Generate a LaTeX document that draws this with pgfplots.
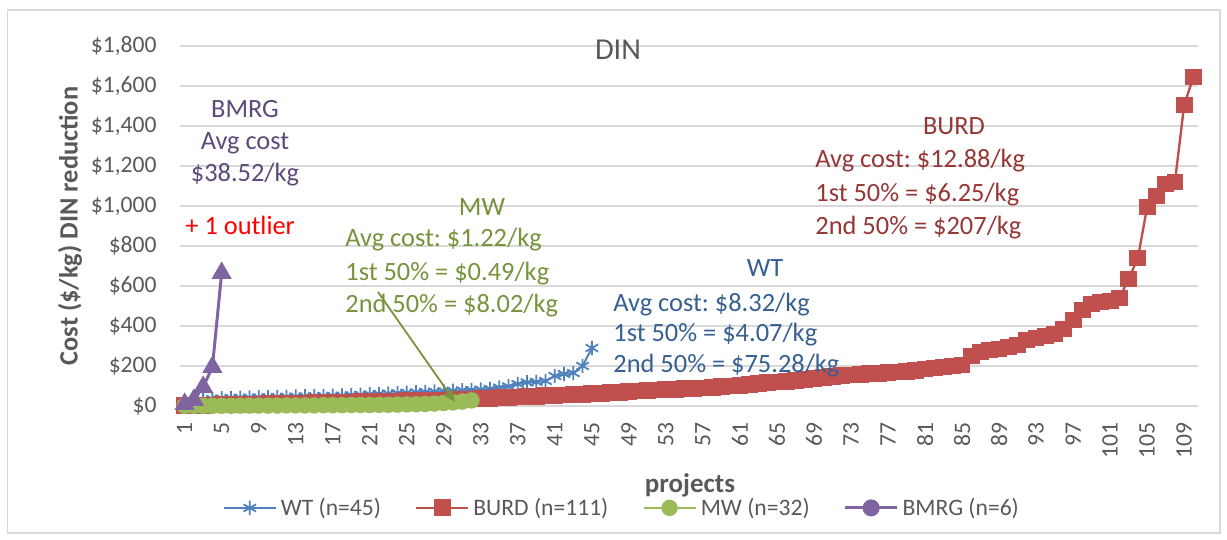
\documentclass[border=0pt]{standalone}
\usepackage{fontspec}
\setmainfont{Carlito}
\usepackage{pgfplots}
\pgfplotsset{compat=1.18}
\usetikzlibrary{arrows.meta}
\frenchspacing
\definecolor{cWT}{HTML}{4F81BD}
\definecolor{cBURD}{HTML}{C0504D}
\definecolor{cMW}{HTML}{9BBB59}
\definecolor{cBMRG}{HTML}{8064A2}
\definecolor{tWT}{HTML}{376092}
\definecolor{tBURD}{HTML}{953735}
\definecolor{tMW}{HTML}{77933C}
\definecolor{tBMRG}{HTML}{5F497A}
\definecolor{tickgray}{HTML}{595959}
\definecolor{gridgray}{HTML}{D9D9D9}
\newcommand{\tf}{\fontsize{11.8bp}{14bp}\selectfont}
\newcommand{\af}{\fontsize{13.2bp}{16bp}\selectfont}
\pgfplotsset{
  stdlegend/.style={legend image code/.code={\draw[mark repeat=2,mark phase=2,##1] plot coordinates {(0bp,0bp) (13bp,0bp) (26bp,0bp)};}},
  bmrglegend/.style={legend image code/.code={\draw[mark repeat=2,mark phase=2,##1,mark=*,mark size=3.5bp] plot coordinates {(0bp,0bp) (13bp,0bp) (26bp,0bp)};}},
}
\begin{document}
\begin{tikzpicture}
\begin{axis}[at={(0,0)}, anchor=south west, scale only axis, width=509bp, height=180bp,
  xmin=0.5, xmax=110.5, ymin=0, ymax=1800, clip=false,
  axis line style={draw=none}, major tick length=0,
  ymajorgrids, grid style={draw=gridgray, line width=0.75bp},
  ytick={0,200,...,1800},
  yticklabels={\$0,\$200,\$400,\$600,\$800,{\$1,000},{\$1,200},{\$1,400},{\$1,600},{\$1,800}},
  xtick={1,5,...,109},
  /pgf/number format/assume math mode=true,
  tick label style={font=\tf, text=tickgray},
  yticklabel style={anchor=east, inner sep=0pt, xshift=-11.5bp},
  xticklabel style={yshift=-8bp, rotate=90, anchor=east, inner sep=0pt},
  legend columns=4,
  legend style={at={(0.435,-0.283)}, anchor=center, draw=none, fill=none, font=\tf, text=tickgray,
    /tikz/every even column/.append style={column sep=15bp}},
  stdlegend,
]
\addplot[cWT, line width=1bp, mark=asterisk, mark size=3.6bp, mark options={line width=0.9bp}] coordinates {
(1,5)(2,20)(3,30)(4,35)(5,38)(6,40)(7,41)(8,42)(9,43)(10,44)
(11,45)(12,46)(13,47)(14,48)(15,49)(16,50)(17,51)(18,52)(19,54)(20,56)
(21,58)(22,60)(23,62)(24,64)(25,66)(26,68)(27,70)(28,72)(29,74)(30,76)
(31,78)(32,80)(33,82)(34,85)(35,92)(36,98)(37,110)(38,118)(39,120)(40,125)
(41,150)(42,160)(43,165)(44,200)(45,290)};
\addlegendentry{WT (n=45)}
\addplot[cBURD, line width=1.2bp, mark=square*, mark size=3.6bp] coordinates {
(1,2)(2,3)(3,4)(4,5)(5,6)(6,7)(7,8)(8,9)(9,10)(10,11)
(11,12)(12,13)(13,14)(14,15)(15,16)(16,17)(17,18)(18,19)(19,20)(20,21)
(21,22)(22,23)(23,24)(24,25)(25,26)(26,27)(27,28)(28,29)(29,30)(30,31)
(31,33)(32,35)(33,37)(34,39)(35,41)(36,43)(37,45)(38,47)(39,49)(40,51)
(41,53)(42,55)(43,57)(44,59)(45,61)(46,63)(47,66)(48,69)(49,72)(50,75)
(51,78)(52,80)(53,82)(54,84)(55,86)(56,88)(57,90)(58,93)(59,96)(60,100)
(61,104)(62,108)(63,112)(64,116)(65,120)(66,124)(67,128)(68,133)(69,138)(70,143)
(71,148)(72,152)(73,155)(74,158)(75,161)(76,164)(77,167)(78,170)(79,173)(80,178)
(81,185)(82,190)(83,195)(84,200)(85,205)(86,250)(87,270)(88,280)(89,285)(90,295)
(91,305)(92,330)(93,340)(94,350)(95,360)(96,385)(97,430)(98,480)(99,510)(100,520)
(101,525)(102,540)(103,635)(104,740)(105,995)(106,1050)(107,1110)(108,1120)(109,1505)(110,1645)};
\addlegendentry{BURD (n=111)}
\addplot[cMW, line width=1.2bp, mark=*, mark size=3.5bp] coordinates {
(1,1)(2,1)(3,1)(4,1)(5,1)(6,1)(7,2)(8,2)(9,2)(10,2)
(11,2)(12,3)(13,3)(14,3)(15,3)(16,4)(17,4)(18,4)(19,5)(20,5)
(21,5)(22,6)(23,6)(24,7)(25,8)(26,9)(27,10)(28,12)(29,15)(30,18)
(31,22)(32,28)};
\addlegendentry{MW (n=32)}
\addplot[cBMRG, line width=1.5bp, mark=triangle*, mark size=4.3bp, bmrglegend] coordinates {
(1,10)(2,30)(3,95)(4,195)(5,665)};
\addlegendentry{BMRG (n=6)}
\end{axis}
\begin{scope}[shift={(-90bp,203bp)}, x=0.5bp, y=-0.5bp]
\path (0,0) rectangle (1227,540);
\draw[gridgray, line width=0.75bp] (7.5,10) rectangle (1220,533);
\node[font=\fontsize{15.2bp}{18bp}\selectfont, text=tickgray, anchor=base] at (618,60) {DIN};
\node[font=\fontsize{13.2bp}{16bp}\selectfont\bfseries, text=tickgray, rotate=90] at (70,226) {Cost (\$/kg) DIN reduction};
\node[font=\fontsize{13.5bp}{16bp}\selectfont\bfseries, text=tickgray] at (690,485) {projects};
% BMRG
\node[font=\af, text=tBMRG, anchor=base] at (245,117.7) {BMRG};
\node[font=\af, text=tBMRG, anchor=base] at (245,150) {Avg cost};
\node[font=\af, text=tBMRG, anchor=base] at (245,181.7) {\$38.52/kg};
\node[font=\af, text=red, anchor=base west, inner sep=0pt] at (185,235) {+ 1 outlier};
% MW
\node[font=\af, text=tMW, anchor=base] at (482,215.7) {MW};
\node[font=\af, text=tMW, anchor=base west, inner sep=0pt] at (345,247) {Avg cost: \$1.22/kg};
\node[font=\af, text=tMW, anchor=base west, inner sep=0pt] at (345,280.7) {1st 50\% = \$0.49/kg};
\node[font=\af, text=tMW, anchor=base west, inner sep=0pt] at (345,312.3) {2nd 50\% = \$8.02/kg};
\draw[tMW, line width=0.9bp, -{Triangle[length=6bp,width=5bp]}] (378,292) -- (455,402);
% WT
\node[font=\af, text=tWT, anchor=base] at (765,277) {WT};
\node[font=\af, text=tWT, anchor=base west, inner sep=0pt] at (613,312) {Avg cost: \$8.32/kg};
\node[font=\af, text=tWT, anchor=base west, inner sep=0pt] at (613,342) {1st 50\% = \$4.07/kg};
\node[font=\af, text=tWT, anchor=base west, inner sep=0pt] at (613,373) {2nd 50\% = \$75.28/kg};
% BURD
\node[font=\af, text=tBURD, anchor=base] at (954,135) {BURD};
\node[font=\af, text=tBURD, anchor=base west, inner sep=0pt] at (815,168) {Avg cost: \$12.88/kg};
\node[font=\af, text=tBURD, anchor=base west, inner sep=0pt] at (815,202) {1st 50\% = \$6.25/kg};
\node[font=\af, text=tBURD, anchor=base west, inner sep=0pt] at (815,235) {2nd 50\% = \$207/kg};
\end{scope}
\end{tikzpicture}
\end{document}
